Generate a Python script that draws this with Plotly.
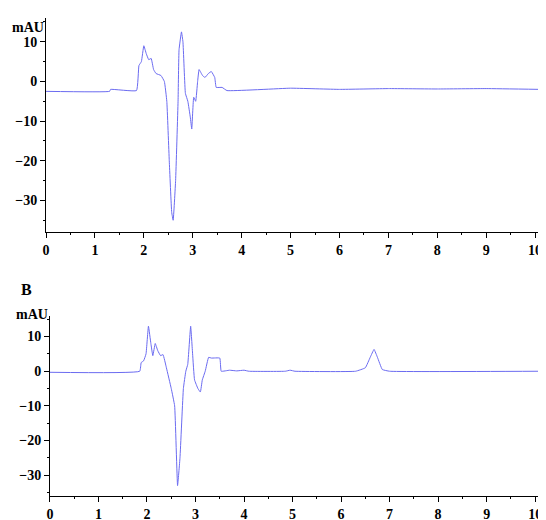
import plotly.graph_objects as go

# panel A trace (time in min, mAU)
t_a = [0, 1.3, 1.32, 1.85, 1.9, 1.95, 2.0, 2.05, 2.1, 2.15, 2.2, 2.25, 2.35, 2.42, 2.47, 2.52, 2.57, 2.6,
       2.65, 2.7, 2.72, 2.77, 2.8, 2.85, 2.9, 2.95, 2.98, 3.02, 3.06, 3.1, 3.13, 3.2, 3.25, 3.32, 3.38,
       3.45, 3.48, 3.6, 3.7, 5.0, 6.0, 7.0, 8.0, 9.0, 10.1]
y_a = [-2.5, -2.5, -2.0, -2.3, 4, 5, 9, 7, 5.5, 5.8, 3, 2, 1.5, 0, -5, -20, -33, -35,
       -25, -5, 8, 12.5, 10, -3, -5, -9, -12, -4, -5, 0, 3, 1.5, 1, 2, 2.5,
       1, -1.5, -1.5, -2.3, -1.7, -2.0, -1.8, -1.9, -1.8, -2.0]

# panel B trace
t_b = [0, 1.85, 1.88, 1.93, 1.98, 2.03, 2.08, 2.12, 2.17, 2.22, 2.28, 2.33, 2.4, 2.5, 2.57, 2.63, 2.68,
       2.75, 2.8, 2.84, 2.9, 2.94, 2.98, 3.05, 3.1, 3.14, 3.2, 3.27, 3.33, 3.5, 3.53, 3.7, 3.85, 4.0,
       4.1, 4.85, 4.95, 5.05, 6.3, 6.5, 6.6, 6.68, 6.75, 6.85, 7.0, 10.1]
y_b = [-0.3, 0, 2.5, 3, 5, 13, 8, 4.5, 8, 6, 4.5, 4.8, 1, -5, -10, -33, -25,
       -5, 0, 2, 13, 5, -2.5, -5, -6, -2.5, 0, 4, 3.8, 3.8, 0, 0.3, 0.1, 0.3,
       0, 0, 0.3, 0, 0, 1, 4, 6.3, 4, 0.5, 0, 0]

x_ticks = list(range(11))
y_ticks = [10, 0, -10, -20, -30]

line = dict(color="#6b6bf0", width=1, shape="spline", smoothing=0.3)
fig = go.Figure()
fig.add_trace(go.Scatter(x=t_a, y=y_a, mode="lines", line=line, xaxis="x", yaxis="y"))
fig.add_trace(go.Scatter(x=t_b, y=y_b, mode="lines", line=line, xaxis="x2", yaxis="y2"))

tf = dict(family="Liberation Serif", size=14, color="black", weight="bold")
ax = dict(showline=True, linecolor="black", linewidth=1, ticks="outside", ticklen=5, tickcolor="black",
          showgrid=False, zeroline=False, tickfont=tf, automargin=False,
          minor=dict(ticks="outside", ticklen=2, tickcolor="black", nticks=5))

fig.update_layout(
    width=546, height=520, showlegend=False,
    plot_bgcolor="white", paper_bgcolor="white",
    margin=dict(l=38, r=14, t=10, b=32),
    xaxis=dict(ax, domain=[0, 1], range=[0, 10.1], tickvals=x_ticks, anchor="y"),
    yaxis=dict(ax, domain=[0.552, 1], range=[-38, 16], tickvals=y_ticks, anchor="x"),
    xaxis2=dict(ax, domain=[0.008, 1], range=[0, 10.1], tickvals=x_ticks, anchor="y2"),
    yaxis2=dict(ax, domain=[0, 0.377], range=[-36, 16], tickvals=y_ticks, anchor="x2"),
    annotations=[
        dict(text="<b>mAU</b>", xref="paper", yref="paper", x=0.0, y=1.0, xanchor="right", yanchor="top",
             showarrow=False, font=dict(family="Liberation Serif", size=14, color="black")),
        dict(text="<b>B</b>", xref="paper", yref="paper", x=-0.055, y=0.455, xanchor="left", yanchor="top",
             showarrow=False, font=dict(family="Liberation Serif", size=16, color="black")),
        dict(text="<b>mAU</b>", xref="paper", yref="paper", x=0.008, y=0.40, xanchor="right", yanchor="top",
             showarrow=False, font=dict(family="Liberation Serif", size=14, color="black")),
    ],
)
fig.write_html("out.html")
